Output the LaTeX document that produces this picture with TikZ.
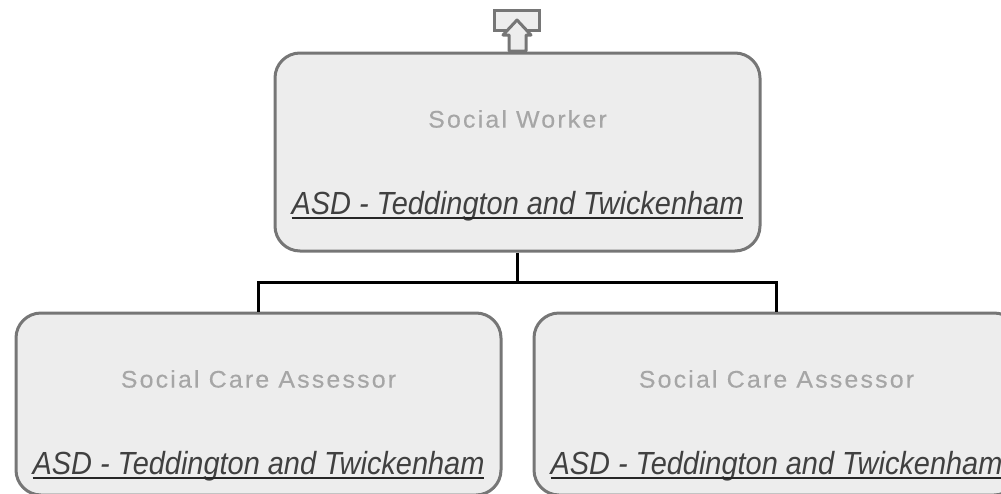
\documentclass[tikz,border=0pt]{standalone}
\usepackage{fontspec}
\setmainfont{Liberation Sans}
\newfontfamily\titlefont[LetterSpace=9,FakeStretch=1.04,FakeBold=0.25]{Liberation Sans}
\newfontfamily\unitfont[FakeStretch=0.904]{Liberation Sans}
\definecolor{boxgray}{HTML}{EDEDED}
\definecolor{edgegray}{HTML}{767676}
\definecolor{titlegray}{HTML}{A6A6A6}
\definecolor{unitgray}{HTML}{404040}
\newsavebox\unitbox
\def\unit#1{\sbox\unitbox{\textit{#1}}\rlap{\usebox\unitbox}\textcolor{black!85}{\rule[-4.5pt]{\wd\unitbox}{1.8pt}}}
\begin{document}
\begin{tikzpicture}[x=1pt,y=-1pt,semithick]
	\tikzstyle{orgbox}=[draw=edgegray,fill=boxgray,line width=3pt,rounded corners=25pt,
		minimum width=485pt,minimum height=198pt]
	\tikzstyle{lowbox}=[orgbox,minimum height=182pt]
	\tikzstyle{titletext}=[text=titlegray,font=\titlefont\fontsize{24}{28}\selectfont,inner sep=0pt]
	\tikzstyle{unittext}=[text=unitgray,font=\unitfont\fontsize{32}{38}\selectfont,inner sep=0pt]
	\tikzstyle{link}=[draw=black,line width=3pt]
	\tikzstyle{tabicon}=[draw=edgegray,fill=boxgray,line width=3pt]

	\useasboundingbox[clip] (0,0) rectangle (1001,493);

	\node[orgbox] (SW) at (517.5,152) {};
	\node[lowbox] (SCAa) [below of=SW,node distance=252pt,xshift=-259pt] {};
	\node[lowbox] (SCAb) [below of=SW,node distance=252pt,xshift=259pt] {};

	% labels
	\node[titletext] (SWtitle) [above of=SW,node distance=33pt] {Social Worker};
	\node[unittext] (SWunit) [below of=SW,node distance=54pt] {\unit{ASD - Teddington and Twickenham}};
	\node[titletext] (SCAatitle) [above of=SCAa,node distance=25pt] {Social Care Assessor};
	\node[unittext] (SCAaunit) [below of=SCAa,node distance=62pt] {\unit{ASD - Teddington and Twickenham}};
	\node[titletext] (SCAbtitle) [above of=SCAb,node distance=25pt] {Social Care Assessor};
	\node[unittext] (SCAbunit) [below of=SCAb,node distance=62pt] {\unit{ASD - Teddington and Twickenham}};

	\coordinate (J) at (517.5,282.5);
	\draw[link] (SW.south) -- (J);
	\draw[link] (SCAa.north) |- (J) -| (SCAb.north);

	% icon on top of the box
	\node[tabicon,minimum width=45pt,minimum height=20pt,inner sep=0pt] (tab) at (517,20) {};
	\draw[tabicon,line join=round] (tab.center) -- (531,35) -- (526,35) -- (526,51) -- (509,51)
		-- (509,35) -- (503,35) -- cycle;
\end{tikzpicture}
\end{document}
